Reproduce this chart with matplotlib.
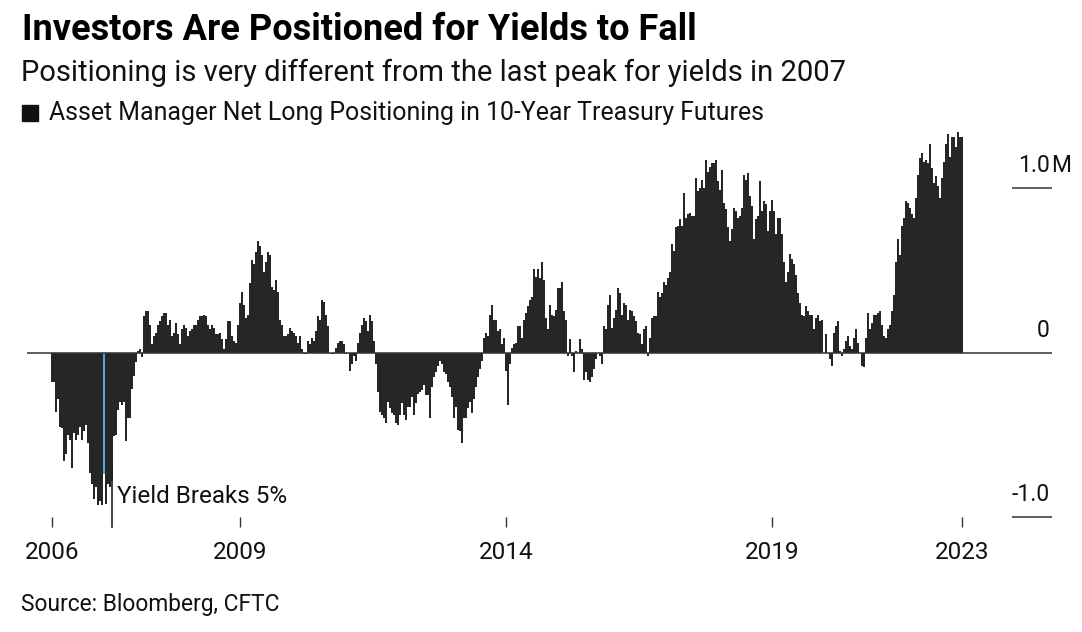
import numpy as np
import matplotlib
matplotlib.use("Agg")
import matplotlib.pyplot as plt
from matplotlib.patches import Rectangle

# asset manager net long positioning, millions of contracts (one bar per sample, left to right)
seg_2006_07 = [-0.18, -0.18, -0.36, -0.28, -0.45, -0.46, -0.66, -0.62, -0.50, -0.53,
               -0.70, -0.49, -0.53, -0.50, -0.45, -0.53, -0.48, -0.44, -0.55, -0.73,
               -0.80, -0.89, -0.82, -0.93, -0.90, -0.93, -0.74, -0.92, -0.80, -0.82,
               -0.78, -0.51, -0.50, -0.35, -0.30, -0.32, -0.30, -0.54, -0.40]
seg_2007_11 = [-0.40, -0.22, -0.14, -0.06, 0.01, 0.02, -0.03, 0.22, 0.25, 0.25,
               0.17, 0.05, 0.10, 0.12, 0.17, 0.19, 0.22, 0.24, 0.24, 0.17,
               0.20, 0.10, 0.12, 0.18, 0.11, 0.05, 0.14, 0.17, 0.15, 0.10,
               0.13, 0.14, 0.17, 0.17, 0.20, 0.22, 0.22, 0.23, 0.22, 0.17,
               0.14, 0.17, 0.15, 0.11, 0.11, 0.12, 0.08, 0.02, 0.08, 0.19,
               0.19, 0.10, 0.07, 0.06, 0.17, 0.30, 0.37, 0.29, 0.21, 0.23,
               0.42, 0.56, 0.54, 0.61, 0.68, 0.65, 0.59, 0.49, 0.55, 0.61,
               0.59, 0.40, 0.38, 0.44, 0.37, 0.20, 0.17, 0.10, 0.10, 0.11,
               0.15, 0.13, 0.12, 0.10, 0.06, 0.10, 0.02, -0.01, -0.01, 0.07,
               0.05, 0.09, 0.07, 0.13, 0.22, 0.20, 0.32, 0.31, 0.23, 0.16,
               0.00, -0.01, -0.01, 0.03, 0.06]
seg_2011_14 = [0.07, 0.07, 0.05, -0.01, 0.00, -0.11, -0.07, -0.02, -0.05, 0.06,
               0.12, 0.17, 0.21, 0.19, 0.13, 0.23, 0.19, 0.07, -0.07, -0.24,
               -0.36, -0.38, -0.40, -0.43, -0.30, -0.34, -0.37, -0.38, -0.43, -0.44,
               -0.38, -0.31, -0.38, -0.41, -0.33, -0.33, -0.27, -0.38, -0.31, -0.25,
               -0.24, -0.23, -0.20, -0.26, -0.26, -0.40, -0.21, -0.15, -0.12, -0.08,
               -0.05, -0.07, -0.12, -0.13, -0.18, -0.21, -0.27, -0.40, -0.33, -0.47,
               -0.48, -0.55, -0.40, -0.40, -0.34, -0.30, -0.37, -0.28, -0.21, -0.15,
               -0.10, -0.05, 0.09, 0.12, 0.10, 0.23, 0.29, 0.20, 0.20, 0.13]
seg_2014_17 = [0.14, 0.05, 0.09, -0.11, -0.32, -0.07, 0.03, 0.05, 0.06, 0.16,
               0.16, 0.09, 0.20, 0.24, 0.28, 0.32, 0.34, 0.51, 0.46, 0.51,
               0.45, 0.55, 0.44, 0.21, 0.14, 0.29, 0.23, 0.22, 0.26, 0.39,
               0.39, 0.43, 0.25, 0.20, -0.02, 0.08, -0.02, -0.12, 0.01, 0.00,
               0.08, 0.02, -0.17, -0.12, -0.17, -0.18, -0.15, -0.10, -0.04, 0.00,
               -0.02, -0.07, 0.16, 0.14, 0.29, 0.35, 0.15, 0.21, 0.26, 0.39,
               0.36, 0.23, 0.30, 0.29, 0.20, 0.26, 0.25, 0.22, 0.19, 0.12]
seg_2017_20 = [0.11, 0.05, 0.14, 0.16, -0.02, 0.09, 0.21, 0.22, 0.22, 0.37,
               0.34, 0.36, 0.43, 0.41, 0.45, 0.49, 0.66, 0.62, 0.76, 0.77,
               0.81, 0.77, 0.97, 0.82, 0.84, 0.85, 0.83, 0.83, 1.06, 0.98,
               1.00, 1.05, 1.00, 1.17, 1.10, 1.13, 1.15, 1.15, 1.17, 1.04,
               0.99, 1.11, 0.91, 0.87, 0.76, 0.68, 0.75, 0.88, 0.86, 0.82,
               0.83, 0.88, 1.08, 1.05, 1.09, 0.95, 0.89, 0.69, 0.81, 0.83,
               1.04, 0.86, 0.92, 0.90, 0.74, 0.86, 0.93, 0.86, 0.72, 0.82,
               0.82, 0.72, 0.55, 0.43, 0.49]
seg_2020_23 = [0.60, 0.57, 0.54, 0.47, 0.36, 0.30, 0.23, 0.22, 0.28, 0.25,
               0.23, 0.23, 0.14, 0.21, 0.23, 0.19, 0.20, 0.00, 0.11, 0.00,
               -0.04, -0.08, 0.12, 0.16, 0.19, 0.01, -0.02, 0.02, 0.07, 0.10,
               0.04, 0.02, 0.09, 0.14, 0.06, 0.00, -0.08, -0.09, 0.09, 0.24,
               0.14, 0.18, 0.23, 0.23, 0.24, 0.25, 0.17, 0.10, 0.09, 0.14,
               0.17, 0.25, 0.35, 0.55, 0.69, 0.59, 0.77, 0.82, 0.92, 0.91,
               0.88, 0.84, 0.82, 0.94, 1.08, 1.18, 1.21, 1.16, 1.17, 1.15,
               1.27, 1.12, 1.03, 1.07, 1.01, 0.94, 1.06, 1.16, 1.27, 1.33,
               1.19, 1.31, 1.31, 1.25, 1.34, 1.31, 1.31]

year_labels = ["2006", "2009", "2014", "2019", "2023"]
year_bar_index = [0, 94, 227, 360, 455]
highlight_index = 26          # week the 10-year yield broke 5%
y_ticks = [1.0, 0.0, -1.0]
y_tick_labels = ["1.0", "0", "-1.0"]

values = np.array(seg_2006_07 + seg_2007_11 + seg_2011_14 +
                  seg_2014_17 + seg_2017_20 + seg_2020_23)
idx = np.arange(len(values))

W, H = 1082, 632
FONT = "Roboto"
DARK = "#262626"
BLUE = "#4ea6e6"

plt.rcParams["font.family"] = [FONT, "DejaVu Sans"]
fig = plt.figure(figsize=(W / 100, H / 100), dpi=100)
ax = fig.add_axes([27 / W, 1 - 517 / H, (1052 - 27) / W, (517 - 125) / H])

colors = [BLUE if i == highlight_index else DARK for i in idx]
ax.bar(idx, values, width=0.62, color=colors, linewidth=0)

ax.set_xlim(-12.5, 500)
ax.set_ylim(-1.0, 1.383)
ax.axhline(0, color="#333333", lw=1.1, zorder=3)
for s in ax.spines.values():
    s.set_visible(False)

# right-hand value axis
ax.set_yticks([])
ax.hlines([1.0, -1.0], 480, 500, color="#333333", lw=1.1, clip_on=False)
for v, lab in zip(y_ticks, y_tick_labels):
    ax.text(499, v + 0.135, lab, ha="right", va="center", fontsize=16.5, color="#111111")
ax.text(499.5, 1.0 + 0.135, "M", ha="left", va="center", fontsize=16.5, color="#111111")

ax.set_xticks(year_bar_index)
ax.set_xticklabels(year_labels)
ax.tick_params(axis="x", length=7.5, width=1, color="#333333", pad=10,
               labelsize=17.5, labelcolor="#111111")

# annotation
ax.plot([30, 30], [-0.71, -1.06], color="#222222", lw=1.2, clip_on=False)
ax.text(32.5, -0.875, "Yield Breaks 5%", ha="left", va="center", fontsize=17.5,
        color="#111111")

fig.text(22 / W, 1 - 30 / H, "Investors Are Positioned for Yields to Fall",
         fontsize=26, fontweight="bold", va="center", ha="left", color="#000000")
fig.text(21 / W, 1 - 73 / H,
         "Positioning is very different from the last peak for yields in 2007",
         fontsize=21, va="center", ha="left", color="#111111")
fig.add_artist(Rectangle((22 / W, 1 - 121 / H), 16 / W, 16 / H,
                         transform=fig.transFigure, color="#111111"))
fig.text(49 / W, 1 - 113 / H,
         "Asset Manager Net Long Positioning in 10-Year Treasury Futures",
         fontsize=17.9, va="center", ha="left", color="#111111")
fig.text(21 / W, 1 - 605 / H, "Source: Bloomberg, CFTC", fontsize=16.4,
         va="center", ha="left", color="#111111")

fig.savefig("out.png", dpi=100)
